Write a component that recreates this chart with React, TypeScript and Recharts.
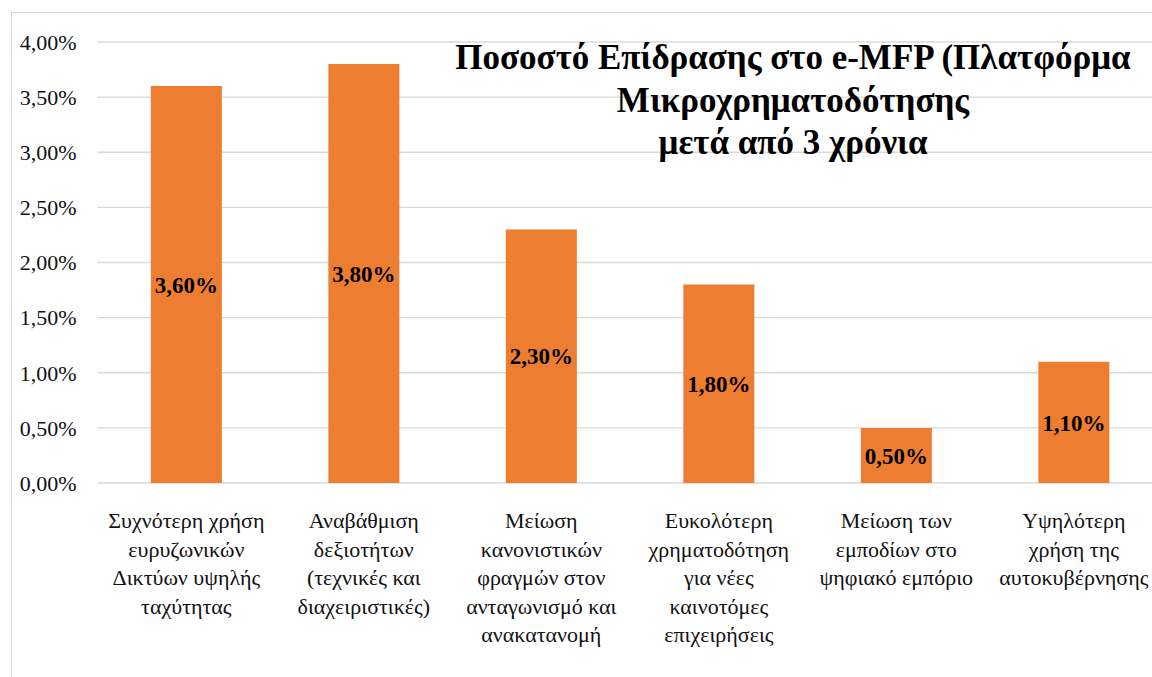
import React from 'react';
import { BarChart, Bar, XAxis, YAxis, CartesianGrid, LabelList } from 'recharts';

// Impact share on e-MFP after 3 years
const categories = [
  'Συχνότερη χρήση ευρυζωνικών Δικτύων υψηλής ταχύτητας',
  'Αναβάθμιση δεξιοτήτων (τεχνικές και διαχειριστικές)',
  'Μείωση κανονιστικών φραγμών στον ανταγωνισμό και ανακατανομή',
  'Ευκολότερη χρηματοδότηση για νέες καινοτόμες επιχειρήσεις',
  'Μείωση των εμποδίων στο ψηφιακό εμπόριο',
  'Υψηλότερη χρήση της αυτοκυβέρνησης',
];

const impactValues = [0.036, 0.038, 0.023, 0.018, 0.005, 0.011];

const categoryLines = [
  ['Συχνότερη χρήση', 'ευρυζωνικών', 'Δικτύων υψηλής', 'ταχύτητας'],
  ['Αναβάθμιση', 'δεξιοτήτων', '(τεχνικές και', 'διαχειριστικές)'],
  ['Μείωση', 'κανονιστικών', 'φραγμών στον', 'ανταγωνισμό και', 'ανακατανομή'],
  ['Ευκολότερη', 'χρηματοδότηση', 'για νέες', 'καινοτόμες', 'επιχειρήσεις'],
  ['Μείωση των', 'εμποδίων στο', 'ψηφιακό εμπόριο'],
  ['Υψηλότερη', 'χρήση της', 'αυτοκυβέρνησης'],
];

const yTicks = [0, 0.005, 0.01, 0.015, 0.02, 0.025, 0.03, 0.035, 0.04];

const titleLines = [
  'Ποσοστό Επίδρασης στο e-MFP (Πλατφόρμα',
  'Μικροχρηματοδότησης',
  'μετά από 3 χρόνια',
];

const data = categories.map((name, i) => ({ name, value: impactValues[i] }));

const pct = (v: number) => (v * 100).toFixed(2).replace('.', ',') + '%';

// force the serif face on every node, svg text included
const fontCss = `
  .chart-root, .chart-root * , .chart-root text, .chart-root tspan {
    font-family: 'Liberation Serif', 'Tinos', 'Times New Roman', serif !important;
  }
`;

function CategoryTick({ x, y, payload }: any) {
  const lines = categoryLines[payload.index] ?? [String(payload.value)];
  return (
    <text x={x} y={y} textAnchor="middle" fontFamily="Liberation Serif" fontSize={22} fill="#111">
      {lines.map((l, i) => (
        <tspan key={i} x={x} dy={i === 0 ? 37 : 28.5}>
          {l}
        </tspan>
      ))}
    </text>
  );
}

export default function App() {
  return (
    <div
      className="chart-root"
      style={{ position: 'absolute', left: 0, top: 0, width: 1152, height: 677, overflow: 'hidden', background: '#fff' }}
    >
      <style>{fontCss}</style>
      <div
        style={{
          position: 'absolute',
          left: 11,
          top: 12,
          width: 1200,
          height: 720,
          borderLeft: '1.5px solid #d9d9d9',
          borderTop: '1.5px solid #d9d9d9',
        }}
      />
      <BarChart
        width={1180}
        height={677}
        data={data}
        margin={{ top: 42, right: 17.4, bottom: 0, left: 0 }}
        barCategoryGap="30%"
      >
        <CartesianGrid vertical={false} stroke="#d9d9d9" strokeWidth={1.4} />
        <XAxis
          dataKey="name"
          axisLine={false}
          tickLine={false}
          height={194}
          interval={0}
          tick={<CategoryTick />}
        />
        <YAxis
          domain={[0, 0.04]}
          ticks={yTicks}
          tickFormatter={pct}
          axisLine={false}
          tickLine={false}
          tickSize={0}
          tickMargin={21}
          width={97.6}
          tick={{ fontFamily: 'Liberation Serif', fontSize: 22, fill: '#111' }}
        />
        <Bar dataKey="value" fill="#ED7D31" isAnimationActive={false}>
          <LabelList
            dataKey="value"
            position="center"
            formatter={(v: any) => pct(Number(v))}
            fontFamily="Liberation Serif"
            fontSize={23}
            fontWeight="bold"
            fill="#000"
          />
        </Bar>
      </BarChart>
      <div
        style={{
          position: 'absolute',
          left: 393,
          width: 800,
          top: 37,
          textAlign: 'center',
          fontFamily: 'Liberation Serif',
          fontWeight: 'bold',
          fontSize: 35,
          lineHeight: '42.5px',
          color: '#000',
          whiteSpace: 'nowrap',
        }}
      >
        {titleLines.map((t, i) => (
          <div key={i}>{t}</div>
        ))}
      </div>
    </div>
  );
}
